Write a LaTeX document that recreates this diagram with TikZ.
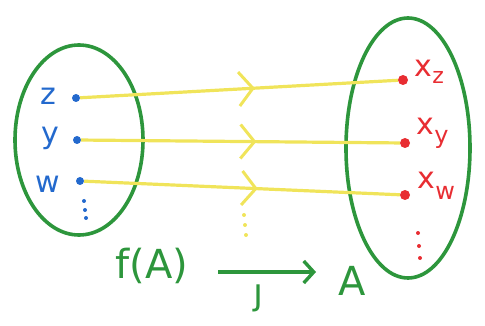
\documentclass[tikz,border=0pt]{standalone}
\usepackage{fontspec}
\setmainfont{DejaVu Sans}
\usetikzlibrary{arrows.meta,decorations.markings}
\definecolor{pgreen}{RGB}{45,150,60}
\definecolor{pblue}{RGB}{35,105,205}
\definecolor{pred}{RGB}{232,45,50}
\definecolor{pyellow}{RGB}{240,228,90}
\tikzset{
  setring/.style={draw=pgreen, line width=3.6pt},
  ldot/.style={circle, fill=pblue, inner sep=0pt, minimum size=8pt},
  rdot/.style={circle, fill=pred, inner sep=0pt, minimum size=10pt},
  sdot/.style={circle, inner sep=0pt, minimum size=4pt},
  llab/.style={text=pblue, font=\fontsize{30}{30}\selectfont},
  rlab/.style={text=pred, font=\fontsize{30}{30}\selectfont},
  map/.style={draw=pyellow, line width=3.2pt,
    postaction={decorate},
    decoration={markings, mark=at position 0.55 with {\arrow[pyellow, line width=3pt]{Straight Barb[length=14pt,width=34pt]}}}},
  glab/.style={text=pgreen, font=\fontsize{40}{40}\selectfont},
}
\begin{document}
\begin{tikzpicture}[x=1pt,y=-1pt]
\useasboundingbox (0,0) rectangle (485,326);
% sets
\draw[setring] (79,140) ellipse [x radius=64, y radius=95];
\draw[setring] (408,148) ellipse [x radius=62, y radius=130];
% left points
\node[ldot] (z) at (76,98) {};
\node[ldot] (y) at (77,140) {};
\node[ldot] (w) at (80,181) {};
\node[llab] (zl) at (48,96) {z};
\node[llab] (yl) at (50,138) {y};
\node[llab] (wl) at (48,184) {w};
\node[sdot, fill=pblue] (ld1) at (84,201) {};
\node[sdot, fill=pblue] (ld2) at (85,210) {};
\node[sdot, fill=pblue] (ld3) at (86,218) {};
% right points
\node[rdot] (xz) at (403,80) {};
\node[rdot] (xy) at (405,143) {};
\node[rdot] (xw) at (405,195) {};
\node[rlab, anchor=west] (xzl) at (411,72) {x\raisebox{-7pt}{\fontsize{22}{22}\selectfont z}};
\node[rlab, anchor=west] (xyl) at (413,133) {x\raisebox{-9pt}{\fontsize{24}{24}\selectfont y}};
\node[rlab, anchor=west] (xwl) at (414,186) {x\raisebox{-11pt}{\fontsize{24}{24}\selectfont w}};
\node[sdot, fill=pred] (rd1) at (418,233) {};
\node[sdot, fill=pred] (rd2) at (419,246) {};
\node[sdot, fill=pred] (rd3) at (420,258) {};
% maps
\draw[map] (z) -- (xz);
\draw[map] (y) -- (xy);
\draw[map] (w) -- (xw);
\node[sdot, fill=pyellow] (md1) at (244,215) {};
\node[sdot, fill=pyellow] (md2) at (245,225) {};
\node[sdot, fill=pyellow] (md3) at (246,235) {};
% bottom
\node[glab] (fa) at (152,266) {f(A)};
\node[glab] (a) at (352,281) {A};
\coordinate (s) at (218,272);
\coordinate (t) at (316,272);
\draw[draw=pgreen, line width=3.4pt, -{Straight Barb[length=10pt,width=22pt]}] (s) -- (t);
\node[glab, font=\fontsize{36}{36}\selectfont] (j) at (258,298) {ȷ};
\end{tikzpicture}
\end{document}
